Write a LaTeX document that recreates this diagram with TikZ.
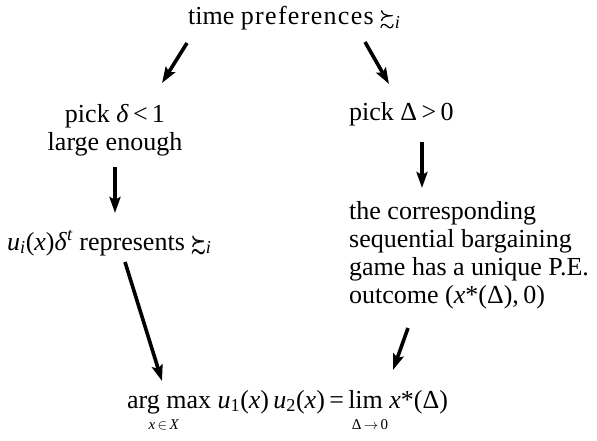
\documentclass[tikz,border=0pt]{standalone}
\usepackage{amsmath,amssymb,graphicx}
\usepackage{fontspec}
\setmainfont{Liberation Serif}
\usetikzlibrary{arrows.meta}
\newcommand{\prefrel}{\scalebox{0.72}{\pmb{$\succsim$}}}
\begin{document}
\begin{tikzpicture}[x=1pt,y=-1pt,
  txt/.style={inner sep=0pt,font=\fontsize{26}{28}\selectfont},
  sub/.style={inner sep=0pt,font=\fontsize{15}{18}\selectfont},
  arr/.style={line width=3.6pt,-{Stealth[length=16pt,width=11pt,inset=3pt]}}]
\useasboundingbox (0,0) rectangle (597,441);
\node[txt,anchor=base west] (top) at (188,25) {time {\addfontfeature{LetterSpace=5}preferences} \prefrel\textsubscript{\textit{i}}};
\node[txt,anchor=base,align=center] (left1) at (115,150) {pick \textit{δ}\,<\,1\\large enough};
\node[txt,anchor=base west] (right1) at (349,121) {pick Δ\,>\,0};
\node[txt,anchor=base west] (left2) at (7,250) {\textit{u\textsubscript{i}}(\textit{x})\textit{δ}\textsuperscript{\textit{t}} represents \prefrel\textsubscript{\textit{i}}};
\node[txt,anchor=base west,align=left] (right2) at (349,303) {the corresponding\\sequential bargaining\\game has a unique P.E.\\outcome (\textit{x}*(Δ),\,0)};
\node[txt,anchor=base west] (res) at (127,408) {arg max \textit{u}\textsubscript{1}(\textit{x})\,\textit{u}\textsubscript{2}(\textit{x})\,=\,lim \textit{x}*(Δ)};
\node[sub,anchor=base] (s1) at (164,429) {\textit{x}$\,\in\,$\textit{X}};
\node[sub,anchor=base] (s2) at (370,429) {Δ$\,\to\,$0};
\coordinate (a1s) at (187,43); \coordinate (a1e) at (162,83);
\coordinate (a2s) at (365,42); \coordinate (a2e) at (389,84);
\coordinate (a3s) at (115,167); \coordinate (a3e) at (115,213);
\coordinate (a4s) at (422,142); \coordinate (a4e) at (422,188);
\coordinate (a5s) at (125,262); \coordinate (a5e) at (162,381);
\coordinate (a6s) at (408,328); \coordinate (a6e) at (393,370);
\draw[arr] (a1s) -- (a1e);
\draw[arr] (a2s) -- (a2e);
\draw[arr] (a3s) -- (a3e);
\draw[arr] (a4s) -- (a4e);
\draw[arr] (a5s) -- (a5e);
\draw[arr] (a6s) -- (a6e);
\end{tikzpicture}
\end{document}
